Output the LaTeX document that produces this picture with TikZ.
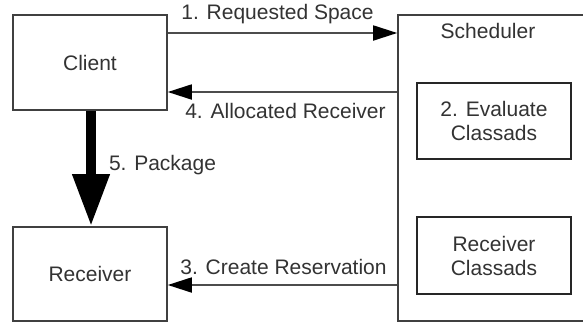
\documentclass[tikz,border=0pt]{standalone}
\usepackage{fontspec}
\setmainfont{Liberation Sans}
\usetikzlibrary{arrows.meta,positioning}

\tikzset{
  box/.style={draw=black!75, line width=1.6pt, inner sep=0pt, align=center,
    text=black!80, font=\fontsize{21}{24}\selectfont},
  label/.style={text=black!80, font=\fontsize{21}{24}\selectfont, inner sep=0pt},
  msg/.style={draw=black!70, line width=1.8pt, -{Triangle[length=24pt,width=15pt,color=black]}},
  bigmsg/.style={draw=black, line width=10pt, -{Triangle[length=52pt,width=35pt]}}
}

\begin{document}
\begin{tikzpicture}[x=1pt, y=-1pt]
        % Fix the picture size
        \clip (0,0) rectangle (583,322);
        \fill[white] (0,0) rectangle (583,322);

        % Define the boxes
        \node[box, minimum width=154pt, minimum height=95pt] (client) at (90,62.5) {Client};
        \node[box, minimum width=154pt, minimum height=94pt] (receiver) at (90,274) {Receiver};
        \node[box, minimum width=222pt, minimum height=306pt] (sched) at (509,168) {};
        \node[box, draw=black!85, minimum width=154pt, minimum height=76pt] (evaluate) at (494,121) {2. Evaluate\\Classads};
        \node[box, draw=black!85, minimum width=154pt, minimum height=77pt] (rcvclass) at (494,255.5) {Receiver\\Classads};
        \node[label] (schedname) at (488,31) {Scheduler};

        % Draw the messages
        \draw[msg] ([yshift=29.5pt]client.east) -- ([yshift=29.5pt]client.east -| sched.west)
            node[label, midway, above=8pt, xshift=-5pt] {1. Requested Space};
        \draw[msg] ([yshift=-29.5pt]client.east -| sched.west) -- ([yshift=-29.5pt]client.east)
            node[label, midway, below=10pt, xshift=3pt] {4. Allocated Receiver};
        \draw[msg] ([yshift=-11pt]receiver.east -| sched.west) -- ([yshift=-11pt]receiver.east)
            node[label, midway, above=9pt, xshift=1pt] {3. Create Reservation};

        % Draw the package arrow
        \draw[bigmsg] ([xshift=1pt]client.south) -- ([xshift=1pt]receiver.north)
            node[label, pos=0.47, right=13pt] {5. Package};
    \end{tikzpicture}
\end{document}
